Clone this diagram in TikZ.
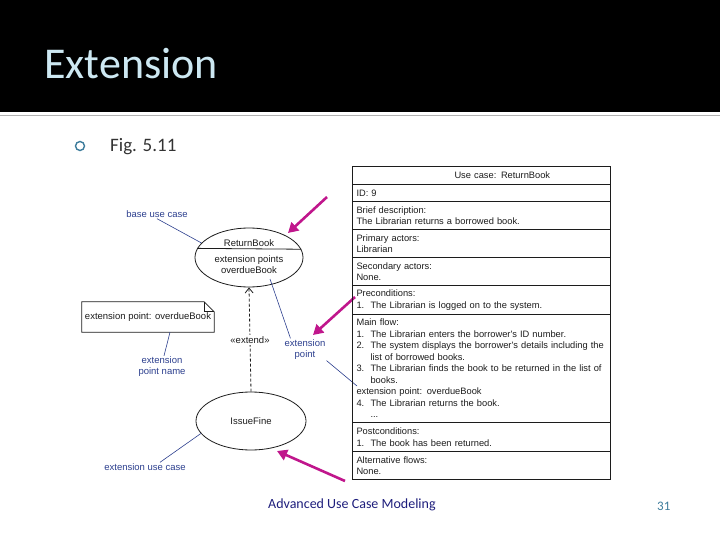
\documentclass[tikz,border=0pt]{standalone}
\usepackage{fontspec}
\setmainfont{Carlito}
\newfontfamily\scanfont{Liberation Sans}
\usetikzlibrary{shapes.geometric}
\usetikzlibrary{arrows.meta}
\definecolor{titleblue}{HTML}{CDE8F2}
\definecolor{bulletblue}{HTML}{3D7C9C}
\definecolor{annoblue}{HTML}{2C3F8E}
\definecolor{pointerpink}{HTML}{C0168C}
\definecolor{footnavy}{HTML}{1E1E7C}
\definecolor{scan}{HTML}{1C1C1C}
\newcommand{\ucnum}[1]{\makebox[14pt][l]{#1}}
\tikzstyle{scantext}=[text=scan, inner sep=1pt, align=center, font=\scanfont\fontsize{9.5}{11}\selectfont]
\tikzstyle{usecase}=[scantext, draw=scan, ellipse, line width=0.8pt, inner sep=0pt, minimum width=108pt, minimum height=59pt]
\tikzstyle{anno}=[scantext, text=annoblue]
\tikzstyle{annoline}=[draw=annoblue, line width=0.6pt]
\tikzstyle{ucrow}=[draw=scan, line width=1pt, anchor=north west, minimum width=258pt, minimum height=28pt, text width=250pt, inner xsep=4pt, inner ysep=0pt, align=left, text=scan, font=\scanfont\fontsize{9.3}{11.5}\selectfont]
\tikzstyle{pointer}=[draw=pointerpink, line width=2.6pt, -{Triangle[length=10pt,width=11pt]}]

\begin{document}
\begin{tikzpicture}[x=1pt, y=-1pt]
        \useasboundingbox (0,0) rectangle (720,540);
        \fill[black] (0,0) rectangle (720,112);
        \draw[gray!60, line width=1.5pt] (0,115.5) -- (720,115.5);
        \node[anchor=base west, inner sep=0pt, text=titleblue, font=\fontsize{44}{50}\selectfont] (title) at (44,79) {Extension};
        \draw[bulletblue, line width=1.4pt] (80,146) circle (4.5);
        \node[anchor=base west, inner sep=0pt, text=black!80, font=\fontsize{19}{22}\selectfont] (fig) at (110,152) {Fig. 5.11};

        \node[usecase] (rb) at (249,257.5) {};
        \draw[draw=scan, line width=0.8pt] (rb.170.7) -- (rb.9.3);
        \node[scantext] (rbname) at (249,243) {ReturnBook};
        \node[scantext] (rbext) at (249,265) {extension points\\overdueBook};
        \node[usecase, minimum width=110pt, minimum height=58pt] (if) at (251,421) {IssueFine};
        \draw[draw=scan, line width=0.8pt, dash pattern=on 3pt off 2pt, -{Straight Barb[length=5pt,width=8pt]}] (if.north) -- (rb.south);
        \node[scantext, fill=white, inner sep=2pt] (ext) at (250,340) {«extend»};

        \node[scantext, minimum width=132pt, minimum height=30pt] (note) at (148,317) {\raisebox{-3pt}{extension point: overdueBook}};
        \draw[draw=scan, line width=0.8pt] (note.south west) -- (note.north west) -- ([xshift=-10pt]note.north east) -- ([yshift=-10pt]note.north east) -- (note.south east) -- cycle;
        \draw[draw=scan, line width=0.8pt] ([xshift=-10pt]note.north east) -- ([xshift=-10pt,yshift=-10pt]note.north east) -- ([yshift=-10pt]note.north east);

        \node[anno] (base) at (157,214) {base use case};
        \node[anno] (epname) at (162,367) {extension\\point name};
        \node[anno] (ept) at (305,349.5) {extension\\point};
        \node[anno] (extuc) at (145,467) {extension use case};
        \coordinate (ovbk) at (270,279);
        \coordinate (extpt) at (357,386);
        \draw[annoline] (base.south) -- (rb.163);
        \draw[annoline] ([xshift=22pt]note.south) -- ([xshift=2pt]epname.north);
        \draw[annoline] ([xshift=7pt]ept.north west) -- (ovbk);
        \draw[annoline] (ept.south east) -- (extpt);
        \draw[annoline] ([xshift=15pt]extuc.north) -- (if.194);

        \coordinate (p1) at (327,197);
        \coordinate (p1tip) at (288,233);
        \coordinate (p2) at (355,297);
        \coordinate (p2tip) at (313,335);
        \coordinate (p3) at (345,481);
        \coordinate (p3tip) at (277,451);
        \draw[pointer] (p1) -- (p1tip);
        \draw[pointer] (p2) -- (p2tip);
        \draw[pointer] (p3) -- (p3tip);

        \node[ucrow, minimum height=18pt] (uchead) at (352,166) {\hspace*{98pt}Use case: ReturnBook};
        \node[ucrow, minimum height=17pt] (ucid) at (352,184) {ID: 9};
        \node[ucrow] (ucbrief) at (352,201) {Brief description:\\The Librarian returns a borrowed book.};
        \node[ucrow] (ucprim) at (352,229) {Primary actors:\\Librarian};
        \node[ucrow] (ucsec) at (352,257) {Secondary actors:\\None.};
        \node[ucrow, minimum height=29pt] (ucpre) at (352,285) {Preconditions:\\\ucnum{1.}The Librarian is logged on to the system.};
        \node[ucrow, minimum height=108pt] (ucmain) at (352,314) {Main flow:\\
            \ucnum{1.}The Librarian enters the borrower's ID number.\\
            \ucnum{2.}The system displays the borrower's details including the\\
            \hspace*{14pt}list of borrowed books.\\
            \ucnum{3.}The Librarian finds the book to be returned in the list of\\
            \hspace*{14pt}books.\\
            extension point: overdueBook\\
            \ucnum{4.}The Librarian returns the book.\\
            \hspace*{14pt}...};
        \node[ucrow, minimum height=29pt] (ucpost) at (352,422) {Postconditions:\\\ucnum{1.}The book has been returned.};
        \node[ucrow] (ucalt) at (352,451) {Alternative flows:\\None.};

        \node[anchor=west, inner sep=0pt, text=footnavy, font=\fontsize{14}{16}\selectfont] (footer) at (268,505) {Advanced Use Case Modeling};
        \node[anchor=west, inner sep=0pt, text=bulletblue, font=\fontsize{13}{15}\selectfont] (page) at (657,506) {31};
    \end{tikzpicture}
\end{document}
